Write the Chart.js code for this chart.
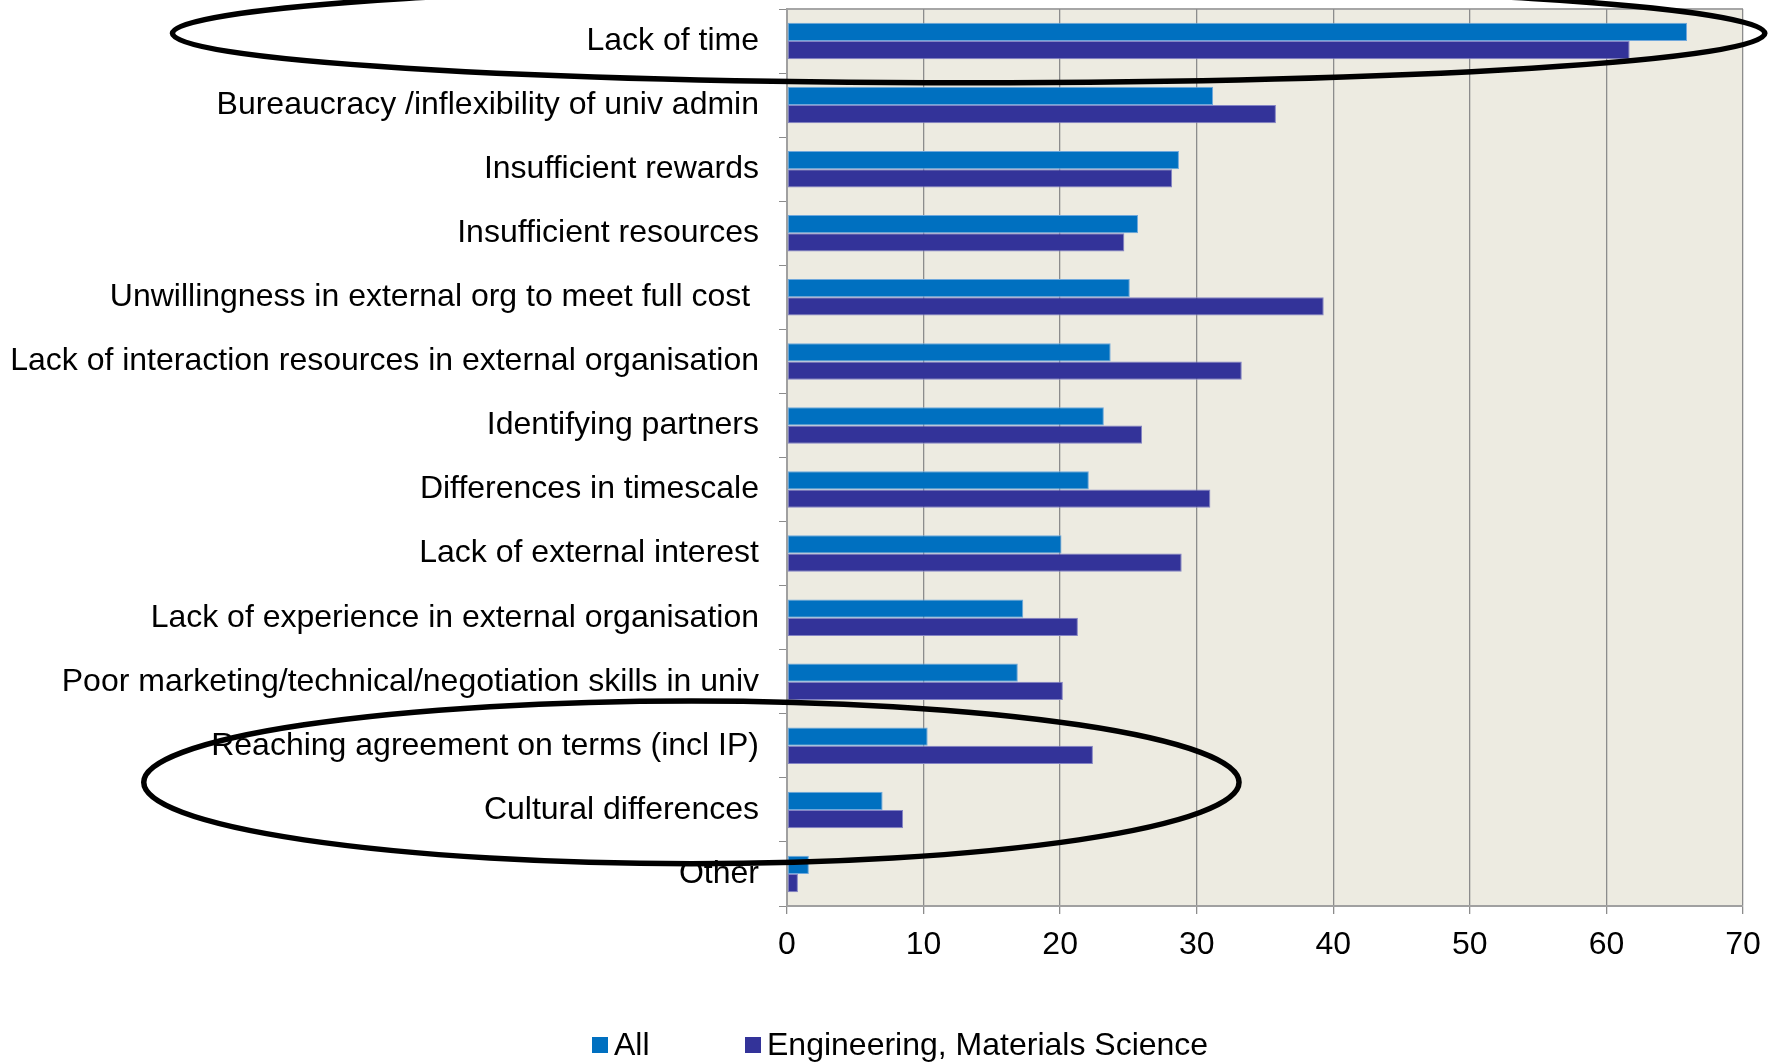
<!DOCTYPE html>
<html>
<head>
<meta charset="utf-8">
<script src="https://cdn.jsdelivr.net/npm/chart.js@4.4.1/dist/chart.umd.min.js"></script>
<style>
  html, body { margin: 0; padding: 0; background: #fff; }
  #wrap { width: 1777px; height: 1063px; position: relative; }
</style>
</head>
<body>
<div id="wrap"><canvas id="barriersChart"></canvas></div>
<script>
// Categories, top to bottom
const categories = [
    'Lack of time',
    'Bureaucracy /inflexibility of univ admin',
    'Insufficient rewards',
    'Insufficient resources',
    'Unwillingness in external org to meet full cost ',
    'Lack of interaction resources in external organisation',
    'Identifying partners',
    'Differences in timescale',
    'Lack of external interest',
    'Lack of experience in external organisation',
    'Poor marketing/technical/negotiation skills in univ',
    'Reaching agreement on terms (incl IP)',
    'Cultural differences',
    'Other'
];
const seriesNames = ['All', 'Engineering, Materials Science'];
const allValues = [65.9, 31.2, 28.7, 25.7, 25.1, 23.7, 23.2, 22.1, 20.1, 17.3, 16.9, 10.3, 7.0, 1.6];
const engValues = [61.7, 35.8, 28.2, 24.7, 39.3, 33.3, 26.0, 31.0, 28.9, 21.3, 20.2, 22.4, 8.5, 0.8];
const xTicks = [0, 10, 20, 30, 40, 50, 60, 70];

// highlight rings: centre (value, category index) and radii in the same units
const highlights = [
    { cx: 13.3, cy: -0.12, rx: 58.3, ry: 0.77 },
    { cx: -7.0, cy: 11.57, rx: 40.1, ry: 1.27 }
];

const FONT = "'Liberation Sans', Arial, Helvetica, sans-serif";
const GRID = '#8C8C8C';

// plot area fill + frame
const plotBackground = {
    id: 'plotBackground',
    beforeDraw: (chart) => {
        const { ctx, chartArea } = chart;
        ctx.save();
        ctx.fillStyle = '#EDEBE1';
        ctx.fillRect(chartArea.left, chartArea.top, chartArea.right - chartArea.left, chartArea.bottom - chartArea.top);
        ctx.strokeStyle = '#A6A6A6';
        ctx.lineWidth = 2;
        ctx.beginPath();
        ctx.moveTo(chartArea.left, chartArea.top);
        ctx.lineTo(chartArea.right, chartArea.top);
        ctx.stroke();
        ctx.restore();
    }
};

// the two black rings drawn over the chart
const highlightRings = {
    id: 'highlightRings',
    afterDraw: (chart) => {
        const { ctx } = chart;
        const xs = chart.scales.x, ys = chart.scales.y;
        const unitX = xs.getPixelForValue(10) - xs.getPixelForValue(0);
        const unitY = ys.getPixelForValue(1) - ys.getPixelForValue(0);
        ctx.save();
        ctx.strokeStyle = '#000';
        ctx.lineWidth = 5.5;
        highlights.forEach(h => {
            const px = xs.getPixelForValue(0) + h.cx * unitX / 10;
            const py = ys.getPixelForValue(0) + h.cy * unitY;
            ctx.beginPath();
            ctx.ellipse(px, py, h.rx * unitX / 10, h.ry * unitY, 0, 0, Math.PI * 2);
            ctx.stroke();
        });
        ctx.restore();
    }
};

// legend row under the axis
const bottomLegend = {
    id: 'bottomLegend',
    afterDraw: (chart) => {
        const { ctx } = chart;
        const items = [
            { x: 592, color: '#0070C0', text: seriesNames[0] },
            { x: 745, color: '#333399', text: seriesNames[1] }
        ];
        ctx.save();
        ctx.font = '32px ' + FONT;
        ctx.textBaseline = 'middle';
        ctx.textAlign = 'left';
        items.forEach(it => {
            ctx.fillStyle = it.color;
            ctx.fillRect(it.x, 1037, 16, 16);
            ctx.fillStyle = '#000';
            ctx.fillText(it.text, it.x + 22, 1046);
        });
        ctx.restore();
    }
};

const ctx = document.getElementById('barriersChart').getContext('2d');
new Chart(ctx, {
    type: 'bar',
    data: {
        labels: categories,
        datasets: [
            {
                label: seriesNames[0],
                data: allValues,
                backgroundColor: '#0070C0',
                borderColor: '#6FA8DC',
                borderWidth: 1,
                borderSkipped: false,
                categoryPercentage: 0.57,
                barPercentage: 1.0
            },
            {
                label: seriesNames[1],
                data: engValues,
                backgroundColor: '#333399',
                borderColor: '#8484C4',
                borderWidth: 1,
                borderSkipped: false,
                categoryPercentage: 0.57,
                barPercentage: 1.0
            }
        ]
    },
    options: {
        indexAxis: 'y',
        responsive: true,
        maintainAspectRatio: false,
        animation: false,
        layout: {
            padding: { top: 9, right: 34, bottom: 97, left: 0 }
        },
        scales: {
            x: {
                min: 0,
                max: 70,
                afterBuildTicks: (scale) => {
                    scale.ticks = xTicks.map(v => ({ value: v }));
                },
                afterFit: (scale) => {
                    scale.height = 60;
                    scale.paddingLeft = 0;
                    scale.paddingRight = 0;
                },
                grid: {
                    color: GRID,
                    lineWidth: 1.3,
                    drawTicks: true,
                    tickLength: 8,
                    tickColor: GRID
                },
                border: { color: '#A0A0A0', width: 2 },
                ticks: {
                    color: '#000',
                    padding: 12,
                    maxRotation: 0,
                    font: { size: 32, family: FONT }
                }
            },
            y: {
                afterFit: (scale) => {
                    scale.width = 787;
                    scale.paddingTop = 0;
                    scale.paddingBottom = 0;
                },
                grid: {
                    drawOnChartArea: false,
                    drawTicks: true,
                    tickLength: 8,
                    color: GRID
                },
                border: { color: '#A0A0A0', width: 2 },
                ticks: {
                    color: '#000',
                    padding: 20,
                    autoSkip: false,
                    font: { size: 32, family: FONT }
                }
            }
        },
        plugins: {
            legend: { display: false },
            tooltip: { enabled: false }
        }
    },
    plugins: [plotBackground, highlightRings, bottomLegend]
});
</script>
</body>
</html>
